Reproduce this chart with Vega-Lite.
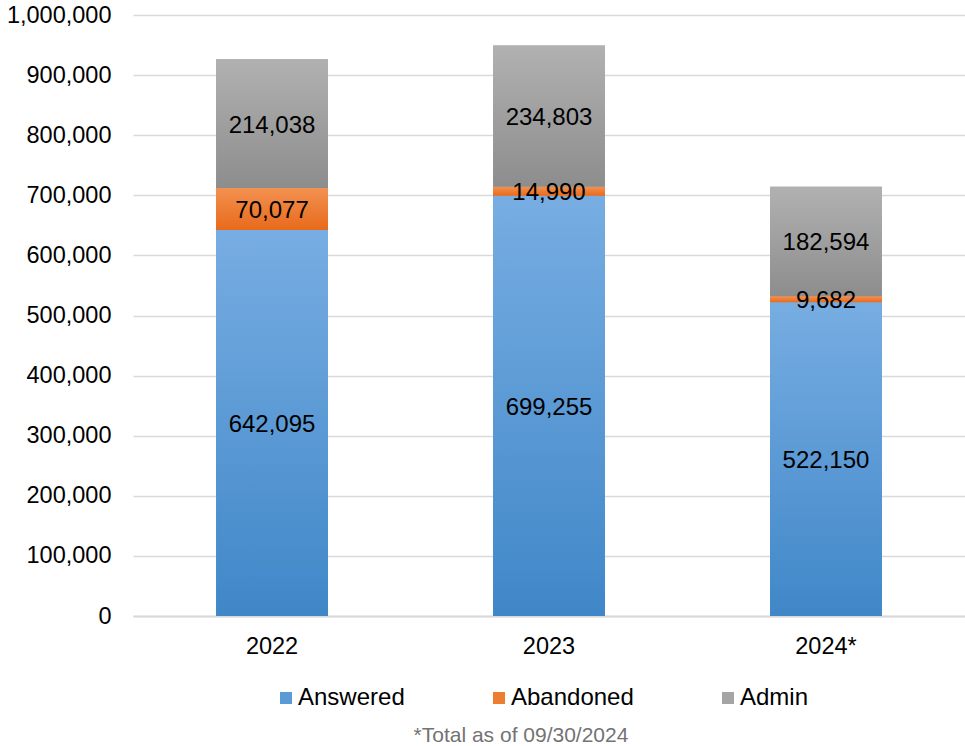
{
  "$schema": "https://vega.github.io/schema/vega-lite/v6.json",
  "width": 832,
  "height": 601,
  "autosize": {"type": "none"},
  "padding": {"left": 133, "top": 15, "right": 0, "bottom": 130},
  "background": "white",
  "title": {
    "text": "*Total as of 09/30/2024",
    "orient": "bottom",
    "anchor": "middle",
    "fontSize": 21,
    "font": "Liberation Sans",
    "fontWeight": "normal",
    "color": "#737373",
    "offset": 15,
    "dx": -28
  },
  "data": {
    "values": [
      {"year": "2022", "series": "Answered", "value": 642095},
      {"year": "2022", "series": "Abandoned", "value": 70077},
      {"year": "2022", "series": "Admin", "value": 214038},
      {"year": "2023", "series": "Answered", "value": 699255},
      {"year": "2023", "series": "Abandoned", "value": 14990},
      {"year": "2023", "series": "Admin", "value": 234803},
      {"year": "2024*", "series": "Answered", "value": 522150},
      {"year": "2024*", "series": "Abandoned", "value": 9682},
      {"year": "2024*", "series": "Admin", "value": 182594}
    ]
  },
  "transform": [
    {"calculate": "indexof(['Answered','Abandoned','Admin'], datum.series)", "as": "order"},
    {"stack": "value", "groupby": ["year"], "sort": [{"field": "order", "order": "ascending"}], "as": ["v0", "v1"]},
    {"calculate": "(datum.v0 + datum.v1) / 2", "as": "mid"}
  ],
  "encoding": {
    "x": {
      "field": "year",
      "type": "nominal",
      "title": null,
      "sort": ["2022", "2023", "2024*"],
      "scale": {"paddingInner": 0.596, "paddingOuter": 0.3},
      "axis": {
        "labelAngle": 0,
        "labelFontSize": 23.5,
        "labelFont": "Liberation Sans",
        "labelColor": "#000000",
        "labelPadding": 18,
        "ticks": false,
        "domain": true,
        "domainColor": "#d9d9d9",
        "domainWidth": 2,
        "grid": false
      }
    }
  },
  "layer": [
    {
      "mark": {"type": "bar"},
      "encoding": {
        "y": {
          "field": "v0",
          "type": "quantitative",
          "title": null,
          "scale": {"domain": [0, 1000000], "nice": false},
          "axis": {
            "values": [0, 100000, 200000, 300000, 400000, 500000, 600000, 700000, 800000, 900000, 1000000],
            "format": ",d",
            "labelFontSize": 23.5,
            "labelFont": "Liberation Sans",
            "labelColor": "#000000",
            "labelPadding": 22,
            "ticks": false,
            "domain": false,
            "grid": true,
            "gridColor": "#d9d9d9",
            "gridWidth": 1.5
          }
        },
        "y2": {"field": "v1"},
        "color": {
          "field": "series",
          "type": "nominal",
          "title": null,
          "scale": {
            "domain": ["Answered", "Abandoned", "Admin"],
            "range": ["#5b9bd5", "#ed7d31", "#a5a5a5"]
          },
          "legend": {
            "orient": "none",
            "legendX": 141,
            "legendY": 671,
            "direction": "horizontal",
            "columns": 3,
            "symbolType": "square",
            "symbolSize": 144,
            "symbolStrokeWidth": 0,
            "labelFontSize": 24,
            "labelFont": "Liberation Sans",
            "labelColor": "#000000",
            "labelOffset": 0,
            "columnPadding": 82
          }
        }
      }
    },
    {
      "transform": [{"filter": "datum.series === 'Answered'"}],
      "mark": {
        "type": "bar",
        "color": {
          "gradient": "linear", "x1": 0, "y1": 0, "x2": 0, "y2": 1,
          "stops": [{"offset": 0, "color": "#77ade2"}, {"offset": 1, "color": "#4087c8"}]
        }
      },
      "encoding": {
        "y": {"field": "v0", "type": "quantitative", "title": null},
        "y2": {"field": "v1"}
      }
    },
    {
      "transform": [{"filter": "datum.series === 'Abandoned'"}],
      "mark": {
        "type": "bar",
        "color": {
          "gradient": "linear", "x1": 0, "y1": 0, "x2": 0, "y2": 1,
          "stops": [{"offset": 0, "color": "#f3914f"}, {"offset": 1, "color": "#e86a1c"}]
        }
      },
      "encoding": {
        "y": {"field": "v0", "type": "quantitative", "title": null},
        "y2": {"field": "v1"}
      }
    },
    {
      "transform": [{"filter": "datum.series === 'Admin'"}],
      "mark": {
        "type": "bar",
        "color": {
          "gradient": "linear", "x1": 0, "y1": 0, "x2": 0, "y2": 1,
          "stops": [{"offset": 0, "color": "#b1b1b1"}, {"offset": 1, "color": "#8d8d8d"}]
        }
      },
      "encoding": {
        "y": {"field": "v0", "type": "quantitative", "title": null},
        "y2": {"field": "v1"}
      }
    },
    {
      "mark": {"type": "text", "fontSize": 24, "font": "Liberation Sans", "color": "#000000", "baseline": "middle", "align": "center", "dy": 2},
      "encoding": {
        "y": {"field": "mid", "type": "quantitative", "title": null},
        "text": {"field": "value", "type": "quantitative", "format": ","}
      }
    }
  ],
  "config": {
    "view": {"stroke": null}
  }
}
